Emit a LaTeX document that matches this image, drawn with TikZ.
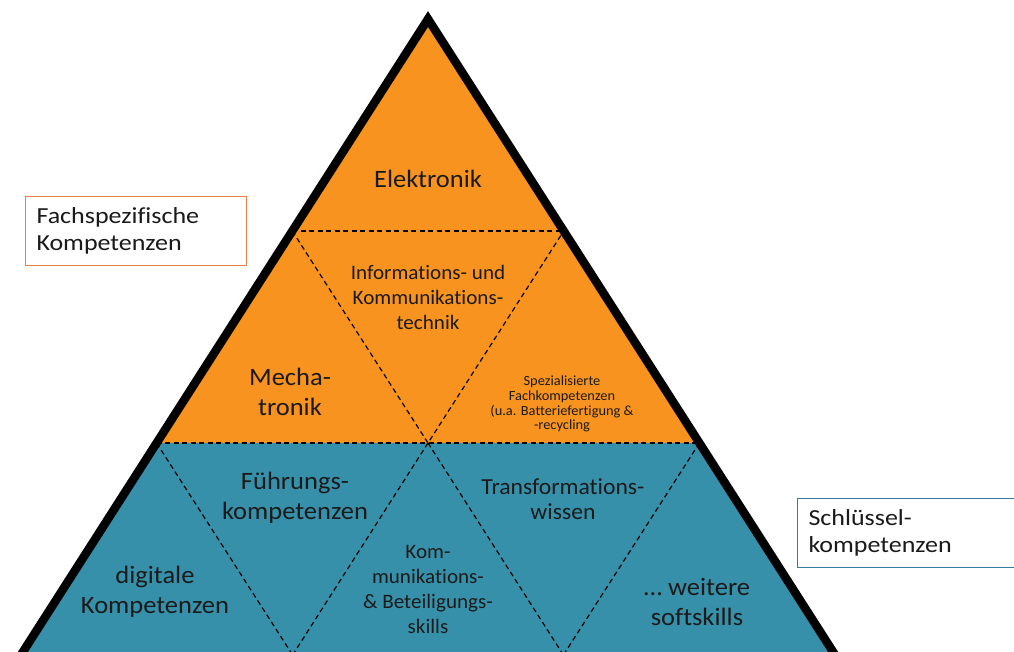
\documentclass[tikz,border=0pt]{standalone}
\usepackage{fontspec}
\setmainfont[RawFeature=-liga]{Carlito}
\newfontfamily\labelfont[FakeStretch=1.06,RawFeature=-liga]{Carlito}
\newfontfamily\midfont[FakeStretch=1.03,RawFeature=-liga]{Carlito}
\newfontfamily\boxfont[FakeStretch=1.13,RawFeature=-liga]{Carlito}
\definecolor{pyrorange}{HTML}{F7931E}
\definecolor{pyrblue}{HTML}{3790A9}
\definecolor{txt}{HTML}{1A1A1A}
\definecolor{boxorange}{HTML}{E2834A}
\definecolor{boxblue}{HTML}{2F7F9C}
\begin{document}
\begin{tikzpicture}[x=1pt,y=-1pt,
  divider/.style={draw=black,line width=1.2pt,dash pattern=on 5pt off 3.5pt},
  label/.style={text=txt,align=center,inner sep=0pt},
  big/.style={label,font=\labelfont\fontsize{25}{29.5}\selectfont},
  mid/.style={label,font=\midfont\fontsize{20.5}{25}\selectfont},
  midlarge/.style={label,font=\midfont\fontsize{23}{25.5}\selectfont},
  small/.style={label,font=\midfont\fontsize{14}{14.8}\selectfont},
  sidebox/.style={draw,line width=1pt,fill=white,minimum height=69pt,text width=200pt,align=left,inner xsep=11pt,text=txt,font=\boxfont\fontsize{23}{27}\selectfont}]
\useasboundingbox (0,0) rectangle (1014,651);
% corner points of the pyramid and of its rows
\coordinate (apex) at (428,19);
\coordinate (l1) at (292.3,231);  \coordinate (r1) at (563.7,231);
\coordinate (l2) at (156.6,443);  \coordinate (m2) at (428,443);  \coordinate (r2) at (699.4,443);
\coordinate (l3) at (20.9,655);   \coordinate (a3) at (292.6,655);
\coordinate (b3) at (563.4,655);  \coordinate (r3) at (835.1,655);
% coloured bands
\fill[pyrorange] (apex) -- (r2) -- (l2) -- cycle;
\fill[pyrblue] (l2) -- (r2) -- (r3) -- (l3) -- cycle;
% dashed inner triangles
\draw[divider] (l1) -- (r1);
\draw[divider] (l2) -- (r2);
\draw[divider] (l1) -- (m2) -- (r1);
\draw[divider] (l2) -- (a3);
\draw[divider] (m2) -- (a3);
\draw[divider] (m2) -- (b3);
\draw[divider] (r2) -- (b3);
% outline
\draw[line width=8.5pt,line join=miter,miter limit=10] (l3) -- (apex) -- (r3);
% labels
\node[big] (elek) at (428,179) {Elektronik};
\node[mid] (ikt) at (428,297) {Informations- und\\Kommunikations-\\technik};
\node[big] (mecha) at (290,392) {Mecha-\\tronik};
\node[small] (spez) at (562,404) {Spezialisierte\\Fachkompetenzen\\(u.a. Batteriefertigung \&\\-recycling};
\node[big] (fuehr) at (295,498) {Führungs-\\kompetenzen};
\node[midlarge] (trans) at (563,499) {Transformations-\\wissen};
\node[big] (digi) at (155,592) {digitale\\Kompetenzen};
\node[mid] (komm) at (428,589) {Kom-\\munikations-\\\& Beteiligungs-\\skills};
\node[big] (soft) at (697,602) {… weitere\\softskills};
% side boxes
\node[sidebox,draw=boxorange,anchor=north west,text width=199pt] (fach) at (25,196) {Fachspezifische\\Kompetenzen};
\node[sidebox,draw=boxblue,anchor=north west] (schl) at (797,498) {Schlüssel-\\kompetenzen};
\end{tikzpicture}
\end{document}
